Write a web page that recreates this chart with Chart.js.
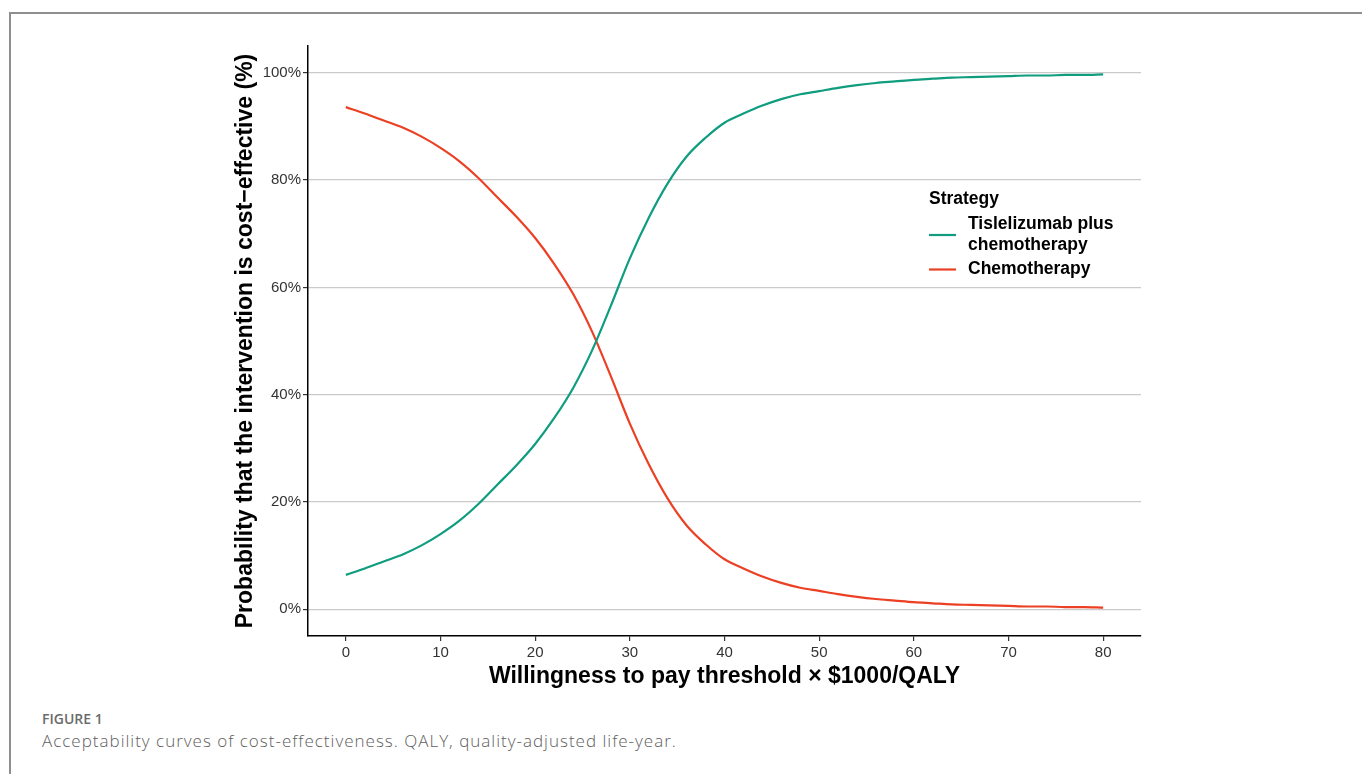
<!DOCTYPE html>
<html>
<head>
<meta charset="utf-8">
<script src="https://cdn.jsdelivr.net/npm/chart.js@4.4.0/dist/chart.umd.min.js"></script>
<style>
  body { margin: 0; background: #fff; width: 1362px; height: 774px; overflow: hidden; position: relative; }
  #frame { position: absolute; left: 9px; top: 12px; right: -5px; bottom: -5px; border-top: 2px solid #8f8f8f; border-left: 2px solid #8f8f8f; }
  #wrap { position: absolute; left: 0; top: 0; width: 1362px; height: 700px; }
  #figlabel { position: absolute; left: 42px; top: 712px; line-height: 1; font-family: "Open Sans", sans-serif; font-size: 14px; font-weight: 600; color: #6b6b6b; }
  #caption { position: absolute; left: 42px; top: 732px; line-height: 1; font-family: "Open Sans", sans-serif; font-size: 17px; font-weight: 300; letter-spacing: 1px; color: #5e5e5e; white-space: nowrap; }
</style>
</head>
<body>
<div id="frame"></div>
<div id="wrap"><canvas id="ceacChart" width="1362" height="700"></canvas></div>
<div id="figlabel">FIGURE 1</div>
<div id="caption">Acceptability curves of cost-effectiveness. QALY, quality-adjusted life-year.</div>
<script>
// willingness to pay, x $1000/QALY
const wtp = [0, 2, 4, 6, 8, 10, 12, 14, 16, 18, 20, 22, 24, 26, 28, 30, 32, 34, 36, 38, 40,
             42, 44, 46, 48, 50, 52, 54, 56, 58, 60, 62, 64, 66, 68, 70, 72, 74, 76, 78, 80];

// probability cost-effective (%)
const tisleChemo = [6.4, 7.6, 8.9, 10.2, 11.9, 14.0, 16.5, 19.6, 23.2, 26.8, 30.8,
                    35.6, 41.2, 48.2, 56.6, 65.4, 73.0, 79.4, 84.4, 87.9, 90.7,
                    92.4, 93.9, 95.1, 96.0, 96.6, 97.2, 97.7, 98.1, 98.4, 98.7,
                    98.9, 99.1, 99.2, 99.3, 99.4, 99.5, 99.5, 99.6, 99.6, 99.7];
const chemo = [93.6, 92.4, 91.1, 89.8, 88.1, 86.0, 83.5, 80.4, 76.8, 73.2, 69.2,
               64.4, 58.8, 51.8, 43.4, 34.6, 27.0, 20.6, 15.6, 12.1, 9.3,
               7.6, 6.1, 4.9, 4.0, 3.4, 2.8, 2.3, 1.9, 1.6, 1.3,
               1.1, 0.9, 0.8, 0.7, 0.6, 0.5, 0.5, 0.4, 0.4, 0.3];

const xTicks = [0, 10, 20, 30, 40, 50, 60, 70, 80];
const yTicks = [0, 20, 40, 60, 80, 100];

const legendTitle = "Strategy";
const legendLabels = [["Tislelizumab plus", "chemotherapy"], ["Chemotherapy"]];
const colors = ["#0f9c7f", "#ec4024"];

const toPoints = (ys) => wtp.map((x, i) => ({ x: x, y: ys[i] }));

const legendPlugin = {
    id: "strategyLegend",
    afterDraw(chart) {
        const c = chart.ctx;
        c.save();
        c.fillStyle = "#000";
        c.textBaseline = "middle";
        c.textAlign = "left";
        c.font = "bold 17.5px 'Liberation Sans', Arial, sans-serif";
        c.fillText(legendTitle, 929, 199);
        let rowTop = 214;
        legendLabels.forEach((lines, i) => {
            const h = lines.length * 21;
            const mid = rowTop + h / 2;
            c.strokeStyle = colors[i];
            c.lineWidth = 2.2;
            c.beginPath();
            c.moveTo(929, mid);
            c.lineTo(956, mid);
            c.stroke();
            lines.forEach((t, j) => c.fillText(t, 968, rowTop + 10.5 + j * 21));
            rowTop += h + 3;
        });
        c.restore();
    }
};

const ctx = document.getElementById("ceacChart").getContext("2d");

let ceacChart = new Chart(ctx, {
    type: "line",
    data: {
        datasets: [{
            label: "Tislelizumab plus chemotherapy",
            data: toPoints(tisleChemo),
            borderColor: colors[0],
            borderWidth: 2.2,
            pointRadius: 0,
            cubicInterpolationMode: "monotone",
            fill: false
        }, {
            label: "Chemotherapy",
            data: toPoints(chemo),
            borderColor: colors[1],
            borderWidth: 2.2,
            pointRadius: 0,
            cubicInterpolationMode: "monotone",
            fill: false
        }]
    },
    options: {
        responsive: false,
        animation: false,
        layout: { padding: { left: 208, top: 46, right: 221, bottom: 4 } },
        plugins: {
            legend: { display: false },
            tooltip: { enabled: false }
        },
        scales: {
            x: {
                type: "linear",
                min: -4,
                max: 84,
                afterBuildTicks: (s) => { s.ticks = xTicks.map(v => ({ value: v })); },
                afterFit: (s) => { s.height = 60; },
                grid: { drawOnChartArea: false, tickLength: 5, color: "#333", lineWidth: 1.2 },
                border: { display: true, color: "#000", width: 1.5 },
                ticks: {
                    color: "#333",
                    padding: 3,
                    font: { family: "'Liberation Sans', Arial, sans-serif", size: 15 }
                },
                title: {
                    display: true,
                    text: "Willingness to pay threshold × $1000/QALY",
                    color: "#000",
                    padding: { top: 0, bottom: 6 },
                    font: { family: "'Liberation Sans', Arial, sans-serif", size: 23, weight: "bold" }
                }
            },
            y: {
                min: -5,
                max: 105,
                afterBuildTicks: (s) => { s.ticks = yTicks.map(v => ({ value: v })); },
                afterFit: (s) => { s.width = 100; },
                grid: { color: "#cacaca", lineWidth: 1.2, tickLength: 5, tickColor: "#333" },
                border: { display: true, color: "#000", width: 1.5 },
                ticks: {
                    color: "#333",
                    padding: 2,
                    callback: (v) => v + "%",
                    font: { family: "'Liberation Sans', Arial, sans-serif", size: 15 }
                },
                title: {
                    display: true,
                    text: "Probability that the intervention is cost−effective (%)",
                    color: "#000",
                    padding: { top: 24, bottom: 0 },
                    font: { family: "'Liberation Sans', Arial, sans-serif", size: 23, weight: "bold" }
                }
            }
        }
    },
    plugins: [legendPlugin]
});
</script>
</body>
</html>
